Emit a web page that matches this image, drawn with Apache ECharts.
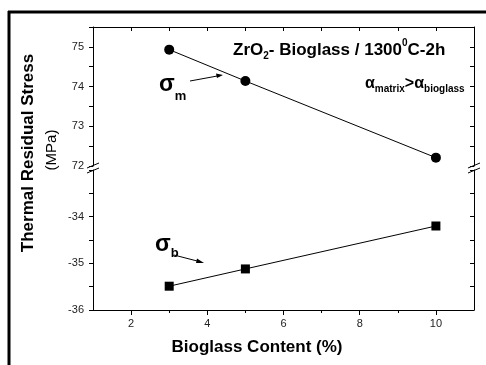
<!DOCTYPE html>
<html>
<head>
<meta charset="utf-8">
<script src="https://cdn.jsdelivr.net/npm/echarts@6/dist/echarts.min.js"></script>
<style>
  html, body { margin: 0; padding: 0; background: #fff; }
  #main { width: 486px; height: 365px; }
</style>
</head>
<body>
<div id="main"></div>
<script>
// bioglass content (%)
var content = [3, 5, 10];
// matrix stress (upper part of the broken axis)
var sigmaM = [74.93, 74.14, 72.21];
// bioglass stress (lower part)
var sigmaB = [-35.49, -35.12, -34.2];

var xMajor = [2, 4, 6, 8, 10];
var xMinor = [3, 5, 7, 9];
var yUpperLabels = [72, 73, 74, 75];
var yLowerLabels = [-36, -35, -34];

var FONT = '"Liberation Sans", Arial, sans-serif';

function pairs(xs, ys) {
    return xs.map(function (x, i) { return [x, ys[i]]; });
}

// rich-text token helper: every token top-aligned, lineHeight moves it up/down
function tok(size, lh) {
    return { font: 'bold ' + size + 'px ' + FONT, fill: '#000', verticalAlign: 'top', lineHeight: lh, height: lh };
}

var dom = document.getElementById('main');
var myChart = echarts.init(dom, null, { renderer: 'canvas' });

var lineCol = '#000';
var tickLabel = { color: '#222', fontSize: 11, fontFamily: FONT };

var option = {
    animation: false,
    backgroundColor: '#fff',
    grid: [
        { left: 93, right: 12, top: 27, height: 139 },
        { left: 93, right: 12, top: 170, height: 140 }
    ],
    xAxis: [
        {   // top edge of upper panel
            gridIndex: 0, type: 'value', position: 'top',
            min: 1, max: 11, interval: 1,
            axisLine: { show: true, lineStyle: { color: lineCol, width: 1 } },
            axisTick: { show: true, inside: true, length: 4, lineStyle: { color: lineCol } },
            axisLabel: { show: false },
            splitLine: { show: false }
        },
        {   // bottom axis, major
            gridIndex: 1, type: 'value', position: 'bottom',
            min: 1, max: 11, interval: 1,
            axisLine: { show: true, lineStyle: { color: lineCol, width: 1 } },
            axisTick: { show: true, length: 5, customValues: xMajor, lineStyle: { color: lineCol } },
            axisLabel: Object.assign({ margin: 8, customValues: xMajor }, tickLabel),
            splitLine: { show: false }
        },
        {   // bottom axis, minor ticks
            gridIndex: 1, type: 'value', position: 'bottom',
            min: 1, max: 11, interval: 1,
            axisLine: { show: false },
            axisTick: { show: true, length: 3, customValues: xMinor, lineStyle: { color: lineCol } },
            axisLabel: { show: false },
            splitLine: { show: false }
        }
    ],
    yAxis: [
        {
            gridIndex: 0, type: 'value', position: 'left',
            min: 72, max: 75.5, interval: 0.5,
            axisLine: { show: true, lineStyle: { color: lineCol, width: 1 } },
            axisTick: { show: true, length: 4, lineStyle: { color: lineCol } },
            axisLabel: Object.assign({ margin: 9, customValues: yUpperLabels }, tickLabel),
            splitLine: { show: false }
        },
        {
            gridIndex: 0, type: 'value', position: 'right',
            min: 72, max: 75.5, interval: 0.5,
            axisLine: { show: true, lineStyle: { color: lineCol, width: 1 } },
            axisTick: { show: true, inside: true, length: 4, lineStyle: { color: lineCol } },
            axisLabel: { show: false },
            splitLine: { show: false }
        },
        {
            gridIndex: 1, type: 'value', position: 'left',
            min: -36, max: -33, interval: 0.5,
            axisLine: { show: true, lineStyle: { color: lineCol, width: 1 } },
            axisTick: { show: true, length: 4, lineStyle: { color: lineCol } },
            axisLabel: Object.assign({ margin: 9, customValues: yLowerLabels }, tickLabel),
            splitLine: { show: false }
        },
        {
            gridIndex: 1, type: 'value', position: 'right',
            min: -36, max: -33, interval: 0.5,
            axisLine: { show: true, lineStyle: { color: lineCol, width: 1 } },
            axisTick: { show: true, inside: true, length: 4, lineStyle: { color: lineCol } },
            axisLabel: { show: false },
            splitLine: { show: false }
        }
    ],
    series: [
        {
            name: 'sigma_m', type: 'line',
            xAxisIndex: 0, yAxisIndex: 0,
            data: pairs(content, sigmaM),
            symbol: 'circle', symbolSize: 10,
            itemStyle: { color: '#000' },
            lineStyle: { color: '#000', width: 1 }
        },
        {
            name: 'sigma_b', type: 'line',
            xAxisIndex: 1, yAxisIndex: 2,
            data: pairs(content, sigmaB),
            symbol: 'rect', symbolSize: 9,
            itemStyle: { color: '#000' },
            lineStyle: { color: '#000', width: 1 }
        }
    ],
    graphic: [
        // outer frame (top and left)
        { type: 'line', shape: { x1: 8, y1: 12, x2: 486, y2: 12 }, style: { stroke: '#000', lineWidth: 3 } },
        { type: 'line', shape: { x1: 9, y1: 11, x2: 9, y2: 365 }, style: { stroke: '#000', lineWidth: 3 } },
        // axis break marks
        { type: 'line', shape: { x1: 87, y1: 168, x2: 99, y2: 163 }, style: { stroke: '#000', lineWidth: 1 } },
        { type: 'line', shape: { x1: 87, y1: 173, x2: 99, y2: 168 }, style: { stroke: '#000', lineWidth: 1 } },
        { type: 'line', shape: { x1: 468, y1: 168, x2: 480, y2: 163 }, style: { stroke: '#000', lineWidth: 1 } },
        { type: 'line', shape: { x1: 468, y1: 173, x2: 480, y2: 168 }, style: { stroke: '#000', lineWidth: 1 } },
        // axis names
        {
            type: 'text', x: 28, y: 153, rotation: Math.PI / 2,
            style: { text: 'Thermal Residual Stress', fill: '#000', font: 'bold 17px ' + FONT, align: 'center', verticalAlign: 'middle' }
        },
        {
            type: 'text', x: 52, y: 150, rotation: Math.PI / 2,
            style: { text: '(MPa)', fill: '#000', font: '15px ' + FONT, align: 'center', verticalAlign: 'middle' }
        },
        {
            type: 'text', x: 257, y: 347,
            style: { text: 'Bioglass Content (%)', fill: '#000', font: 'bold 17px ' + FONT, align: 'center', verticalAlign: 'middle' }
        },
        // title annotation
        {
            type: 'text', x: 233, y: 39,
            style: {
                text: '{m|ZrO}{s|2}{m|- Bioglass / 1300}{p|0}{m|C-2h}',
                fill: '#000',
                rich: { m: tok(17, 22), s: tok(10, 35), p: tok(10, 9) }
            }
        },
        {
            type: 'text', x: 365, y: 75,
            style: {
                text: '{a|α}{s|matrix}{a|>α}{s|bioglass}',
                fill: '#000',
                rich: { a: tok(16, 18), s: tok(10, 28) }
            }
        },
        // sigma labels
        {
            type: 'text', x: 159, y: 73,
            style: {
                text: '{g|σ}{s|m}',
                fill: '#000',
                rich: { g: tok(23, 24), s: tok(13, 46) }
            }
        },
        {
            type: 'text', x: 155, y: 233,
            style: {
                text: '{g|σ}{s|b}',
                fill: '#000',
                rich: { g: tok(23, 24), s: tok(13, 40) }
            }
        },
        // arrows
        { type: 'line', shape: { x1: 190, y1: 81, x2: 220, y2: 75.5 }, style: { stroke: '#000', lineWidth: 1 } },
        { type: 'polygon', shape: { points: [[223, 75], [216, 73.5], [217, 78]] }, style: { fill: '#000' } },
        { type: 'line', shape: { x1: 174, y1: 255, x2: 201, y2: 262 }, style: { stroke: '#000', lineWidth: 1 } },
        { type: 'polygon', shape: { points: [[204, 263], [197, 258.5], [196, 263]] }, style: { fill: '#000' } }
    ]
};

if (option && typeof option === 'object') {
    myChart.setOption(option);
}
</script>
</body>
</html>
